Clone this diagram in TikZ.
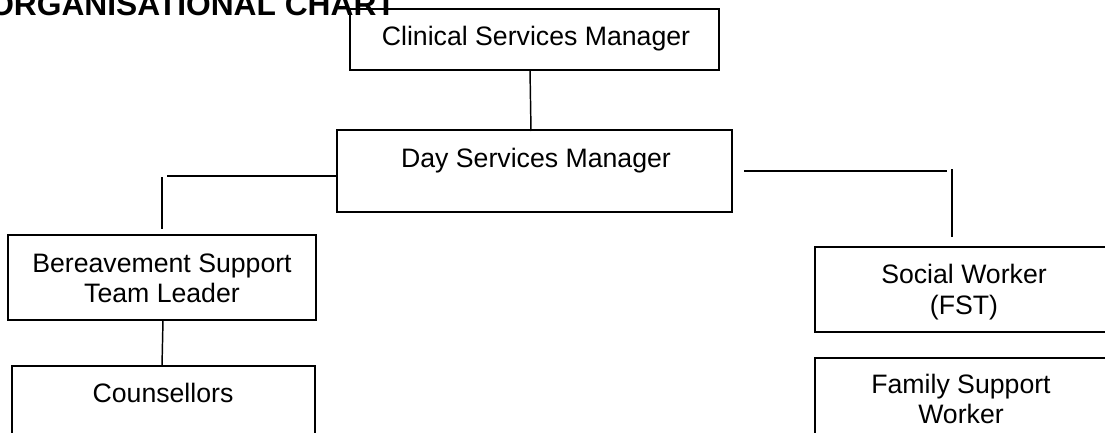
\documentclass[tikz,border=0pt]{standalone}
\usepackage{fontspec}
\setmainfont{Liberation Sans}
\usetikzlibrary{fit}
\begin{document}
\begin{tikzpicture}[x=0.75pt,y=-0.75pt,
  box/.style={draw=black,line width=1.1pt,inner sep=0pt,fit={#1}},
  lbl/.style={anchor=base,inner sep=0pt,font=\fontsize{20}{23}\selectfont},
  ttl/.style={anchor=base west,inner sep=0pt,font=\fontsize{23.8}{26}\selectfont\bfseries},
  conn/.style={draw=black,line width=1.1pt}]
\useasboundingbox (0,0) rectangle (1105,432);
\clip (0,0) rectangle (1105,432);
% title
\node[ttl] (title) at (-11,15) {ORGANISATIONAL CHART};
% boxes
\node[box={(350,9) (719,70)}] (csm) {};
\node[box={(337,130) (732,212)}] (dsm) {};
\node[box={(8,235) (316,320)}] (bst) {};
\node[box={(12,366) (315,460)}] (cou) {};
\node[box={(815,247) (1113,332)}] (sw) {};
\node[box={(815,358) (1113,460)}] (fsw) {};
% texts
\node[lbl] (csmt) at (536,45) {Clinical Services Manager};
\node[lbl] (dsmt) at (536,167) {Day Services Manager};
\node[lbl] (bstt1) at (162,272) {Bereavement Support};
\node[lbl] (bstt2) at (162,302) {Team Leader};
\node[lbl] (cout) at (163,402) {Counsellors};
\node[lbl] (swt1) at (964,283) {Social Worker};
\node[lbl] (swt2) at (964,314) {(FST)};
\node[lbl] (fswt1) at (961,393) {Family Support};
\node[lbl] (fswt2) at (961,423) {Worker};
% connector end points
\coordinate (a1) at (530,70);
\coordinate (a2) at (531,131);
\coordinate (l1) at (167,176);
\coordinate (l2) at (337,176);
\coordinate (lv1) at (162,177);
\coordinate (lv2) at (162,229);
\coordinate (b1) at (163,320);
\coordinate (b2) at (162,366);
\coordinate (r1) at (744,171);
\coordinate (r2) at (947,171);
\coordinate (rv1) at (952,169);
\coordinate (rv2) at (952,237);
% connectors
\draw[conn] (a1) -- (a2);
\draw[conn] (l1) -- (l2);
\draw[conn] (lv1) -- (lv2);
\draw[conn] (b1) -- (b2);
\draw[conn] (r1) -- (r2);
\draw[conn] (rv1) -- (rv2);
\end{tikzpicture}
\end{document}
